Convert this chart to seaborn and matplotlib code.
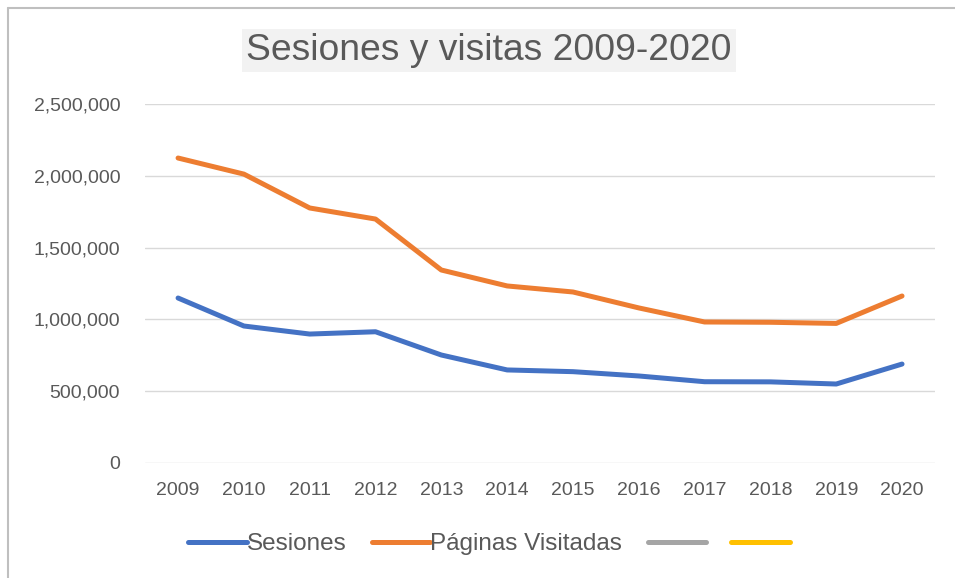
import numpy as np
import pandas as pd
import matplotlib
matplotlib.use('Agg')
import matplotlib.pyplot as plt
import seaborn as sns
from matplotlib.lines import Line2D
from matplotlib.ticker import FuncFormatter

years = ['2009', '2010', '2011', '2012', '2013', '2014',
         '2015', '2016', '2017', '2018', '2019', '2020']
sesiones = [1149000, 954000, 898000, 914000, 752000, 648000,
            636000, 606000, 566000, 565000, 550000, 689000]
paginas = [2124000, 2012000, 1776000, 1699000, 1344000, 1233000,
           1191000, 1080000, 982000, 980000, 972000, 1163000]

df = pd.DataFrame({'Año': years * 2,
                   'Valor': sesiones + paginas,
                   'Serie': ['Sesiones'] * 12 + ['Páginas Visitadas'] * 12})

sns.set_theme(style='white')
plt.rcParams['font.family'] = ['Liberation Sans', 'DejaVu Sans']

txt = '#595959'
colors = {'Sesiones': '#4472C4', 'Páginas Visitadas': '#ED7D31'}

fig = plt.figure(figsize=(9.55, 5.78), dpi=100)
ax = fig.add_axes([0.152, 0.199, 0.827, 0.621])

sns.lineplot(data=df, x='Año', y='Valor', hue='Serie', palette=colors,
             linewidth=3.6, sort=False, ax=ax, legend=False)

ax.set_xlim(-0.5, 11.5)
ax.set_ylim(0, 2500000)
ax.set_yticks(np.arange(0, 2500001, 500000))
ax.yaxis.set_major_formatter(FuncFormatter(lambda v, p: f'{int(v):,}'))
ax.grid(axis='y', color='#d9d9d9', linewidth=1)
ax.set_axisbelow(True)
for s in ax.spines.values():
    s.set_visible(False)
ax.set_xlabel('')
ax.set_ylabel('')
ax.tick_params(axis='both', length=0, labelsize=14, colors=txt)
ax.tick_params(axis='y', pad=18)
ax.tick_params(axis='x', pad=14)

fig.text(0.512, 0.913, 'Sesiones y visitas 2009-2020', ha='center', va='center',
         fontsize=26.8, color=txt,
         bbox=dict(facecolor='#f2f2f2', edgecolor='none', pad=3))

handles = [Line2D([], [], color='#4472C4', lw=3.6),
           Line2D([], [], color='#ED7D31', lw=3.6),
           Line2D([], [], color='#A5A5A5', lw=3.6),
           Line2D([], [], color='#FFC000', lw=3.6)]
labels = ['Sesiones', 'Páginas Visitadas', '', '']
leg = fig.legend(handles, labels, loc='center', bbox_to_anchor=(0.512, 0.058),
                 ncol=4, frameon=False, fontsize=17.5, handlelength=2.4,
                 handletextpad=0.0, columnspacing=1.05)
for t in leg.get_texts():
    t.set_color(txt)

fig.add_artist(Line2D([0.0085, 0.0085], [0, 0.986], color='#bfbfbf', lw=1.5,
                      transform=fig.transFigure))
fig.add_artist(Line2D([0.0085, 1.0], [0.986, 0.986], color='#bfbfbf', lw=1.5,
                      transform=fig.transFigure))

fig.savefig('out.png', dpi=100)
